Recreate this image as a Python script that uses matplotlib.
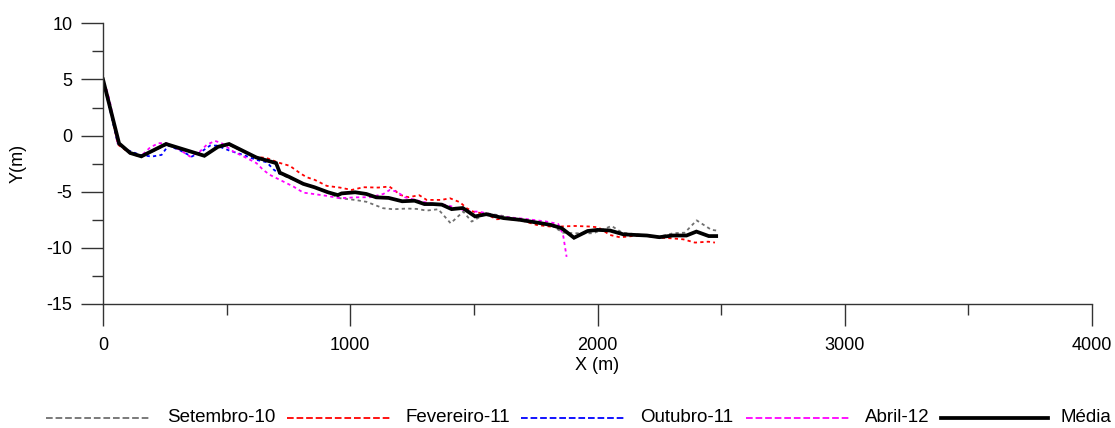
import matplotlib
matplotlib.use("Agg")
import matplotlib.pyplot as plt
from matplotlib import font_manager
from matplotlib.lines import Line2D
from matplotlib.ticker import MultipleLocator

# ---------------- data ----------------
media_x = [0, 65, 110, 155, 255, 410, 465, 510, 565, 620, 700, 715, 755, 810, 855, 910, 950, 965,
           1020, 1065, 1105, 1155, 1210, 1260, 1300, 1335, 1370, 1410, 1455, 1505, 1550, 1620,
           1685, 1755, 1810, 1855, 1905, 1960, 2000, 2050, 2105, 2200, 2250, 2305, 2360, 2400,
           2450, 2480]
media_y = [5, -0.7, -1.55, -1.85, -0.75, -1.8, -1.0, -0.75, -1.35, -1.95, -2.45, -3.3, -3.7, -4.3,
           -4.6, -5.05, -5.3, -5.15, -5.05, -5.2, -5.5, -5.55, -5.85, -5.8, -6.1, -6.1, -6.15,
           -6.55, -6.45, -7.2, -7.0, -7.35, -7.5, -7.75, -7.95, -8.25, -9.1, -8.5, -8.4, -8.45,
           -8.8, -8.9, -9.05, -8.9, -8.9, -8.55, -8.95, -8.95]

set10_x = [0, 60, 110, 160, 260, 290, 410, 465, 510, 565, 620, 700, 715, 755, 810, 855, 910, 958,
           1019, 1066, 1133, 1174, 1228, 1268, 1309, 1356, 1406, 1457, 1491, 1551, 1619, 1686,
           1754, 1810, 1861, 1915, 1983, 2057, 2100, 2200, 2250, 2306, 2353, 2401, 2461, 2480]
set10_y = [5, -0.7, -1.5, -1.8, -0.8, -1.1, -1.75, -1.0, -0.8, -1.4, -2.0, -2.5, -3.4, -3.8, -4.3,
           -4.6, -5.1, -5.58, -5.73, -5.9, -6.47, -6.56, -6.5, -6.53, -6.68, -6.56, -7.81, -6.77,
           -7.66, -6.92, -7.16, -7.5, -7.75, -7.95, -8.65, -8.7, -8.7, -8.05, -8.65, -8.9, -9.0,
           -8.7, -8.65, -7.55, -8.4, -8.45]

fev11_x = [0, 15, 60, 110, 155, 255, 410, 465, 510, 565, 620, 662, 709, 756, 797, 824, 857, 905,
           958, 1006, 1053, 1113, 1158, 1181, 1201, 1235, 1279, 1309, 1329, 1369, 1403, 1444,
           1471, 1497, 1550, 1592, 1632, 1700, 1754, 1808, 1848, 1909, 1969, 2003, 2050, 2091,
           2145, 2200, 2252, 2300, 2347, 2394, 2448, 2475]
fev11_y = [4.8, 4.0, -0.8, -1.6, -1.9, -0.8, -1.8, -1.0, -0.8, -1.4, -1.9, -2.0, -2.4, -2.7,
           -3.35, -3.71, -3.95, -4.48, -4.63, -4.84, -4.6, -4.63, -4.54, -4.9, -5.28, -5.49,
           -5.31, -5.73, -5.73, -5.73, -5.58, -5.94, -6.47, -6.77, -7.0, -7.45, -7.4, -7.6,
           -7.96, -8.1, -8.1, -8.05, -8.1, -8.17, -8.85, -9.06, -8.94, -8.95, -9.09, -9.15,
           -9.24, -9.53, -9.45, -9.53]

out11_x = [0, 60, 96, 150, 197, 237, 264, 310, 359, 399, 433, 460, 514, 567, 621, 662, 689, 709,
           756]
out11_y = [5, -0.7, -1.27, -1.72, -1.87, -1.72, -0.89, -1.3, -1.87, -1.42, -0.89, -0.89, -1.36,
           -1.72, -2.17, -2.37, -3.0, -3.35, -3.7]

abr12_x = [0, 15, 28, 60, 110, 155, 190, 224, 257, 311, 352, 392, 419, 453, 480, 527, 581, 621,
           648, 675, 716, 770, 810, 851, 905, 958, 1020, 1080, 1134, 1160, 1188, 1221, 1262,
           1309, 1350, 1390, 1457, 1484, 1518, 1538, 1600, 1700, 1794, 1841, 1855, 1862, 1875]
abr12_y = [4.6, 4.07, 3.03, -0.7, -1.55, -1.8, -1.07, -0.68, -0.68, -1.27, -1.87, -1.42, -0.83,
           -0.47, -0.68, -1.42, -2.0, -2.46, -3.06, -3.5, -3.95, -4.54, -5.08, -5.2, -5.37,
           -5.58, -5.5, -5.49, -5.2, -4.84, -4.99, -5.49, -5.73, -5.97, -6.1, -6.18, -6.62,
           -6.77, -6.77, -6.86, -7.2, -7.4, -7.66, -7.87, -8.55, -9.0, -10.8]

legend_labels = ["Setembro-10", "Fevereiro-11", "Outubro-11", "Abril-12", "Média"]

# ---------------- fonts ----------------
names = {f.name for f in font_manager.fontManager.ttflist}
base_font = "Liberation Sans" if "Liberation Sans" in names else "DejaVu Sans"
plt.rcParams["font.family"] = [base_font, "DejaVu Sans"]
plt.rcParams["axes.unicode_minus"] = False

W, H = 1115, 428
fig = plt.figure(figsize=(W / 100, H / 100), dpi=100)
ax = fig.add_axes([103 / W, 1 - 304 / H, (1092 - 103) / W, (304 - 23.3) / H])

dot = (0, (1.8, 1.8))
l1, = ax.plot(set10_x, set10_y, color="#707070", lw=1.3, ls=dot)
l2, = ax.plot(fev11_x, fev11_y, color="#ff0000", lw=1.3, ls=dot)
l3, = ax.plot(out11_x, out11_y, color="#0000ff", lw=1.3, ls=dot)
l4, = ax.plot(abr12_x, abr12_y, color="#ff00ff", lw=1.3, ls=dot)
l5, = ax.plot(media_x, media_y, color="black", lw=2.7, solid_joinstyle="miter")

ax.set_xlim(0, 4000)
ax.set_ylim(-15, 10)
ax.xaxis.set_major_locator(MultipleLocator(1000))
ax.xaxis.set_minor_locator(MultipleLocator(500))
ax.yaxis.set_major_locator(MultipleLocator(5))
ax.yaxis.set_minor_locator(MultipleLocator(2.5))

for s in ["top", "right"]:
    ax.spines[s].set_visible(False)
for s in ["left", "bottom"]:
    ax.spines[s].set_color("#333333")
    ax.spines[s].set_linewidth(1.0)

ax.tick_params(axis="both", which="major", direction="out", length=16, width=1.0, color="#333333")
ax.tick_params(axis="both", which="minor", direction="out", length=8, width=1.0, color="#333333")
ax.tick_params(axis="y", which="major", pad=6, labelsize=13)
ax.tick_params(axis="x", which="major", pad=8, labelsize=13)

ax.set_xlabel("X (m)", fontsize=13, labelpad=2)
ax.set_ylabel("Y(m)", fontsize=13, labelpad=14)

# ---------------- legend (single row under the plot) ----------------
handles = [l1, l2, l3, l4, l5]
handle_spans = [(46, 150), (287, 391), (521, 624), (746, 851), (941, 1048)]
text_left = [167, 406, 640, 865, 1061]
ly = 1 - 418 / H
for h, (a, b), tx, lab in zip(handles, handle_spans, text_left, legend_labels):
    fig.add_artist(Line2D([a / W, b / W], [ly, ly], transform=fig.transFigure,
                          color=h.get_color(), lw=h.get_linewidth(), ls=h.get_linestyle()))
    fig.text(tx / W, ly, lab, ha="left", va="center", fontsize=13.5)

fig.savefig("out.png", dpi=100)
